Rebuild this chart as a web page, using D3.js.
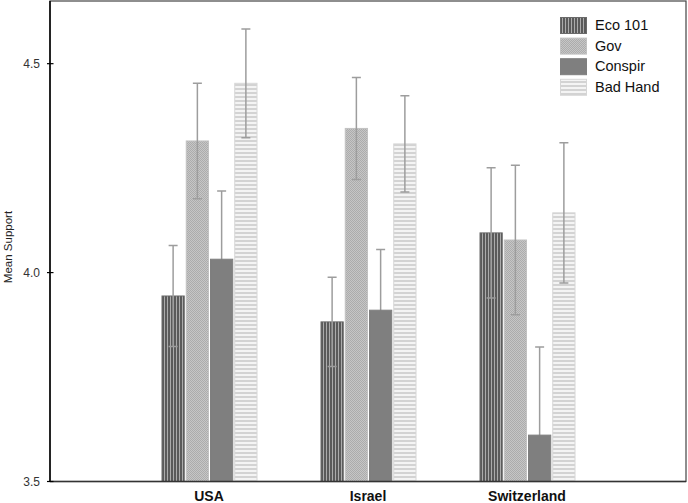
<!DOCTYPE html>
<html>
<head>
<meta charset="utf-8">
<script src="https://cdn.jsdelivr.net/npm/d3@7"></script>
<style>
  html, body { margin: 0; padding: 0; background: #fff; }
  svg { display: block; font-family: Arial, "Liberation Sans", sans-serif; }
</style>
</head>
<body>
<svg id="chart" width="688" height="503"></svg>
<script>
// ---- data ----
const categories = ["USA", "Israel", "Switzerland"];
const seriesNames = ["Eco 101", "Gov", "Conspir", "Bad Hand"];
const ecoValues      = [3.944, 3.882, 4.095];
const govValues      = [4.315, 4.345, 4.078];
const conspirValues  = [4.032, 3.910, 3.611];
const badHandValues  = [4.453, 4.308, 4.143];
const ecoErrors      = [0.121, 0.107, 0.156];
const govErrors      = [0.138, 0.122, 0.179];
const conspirErrors  = [0.163, 0.145, 0.211];
const badHandErrors  = [0.130, 0.115, 0.168];
const yTicks = [3.5, 4.0, 4.5];
const yLabel = "Mean Support";

const values = [ecoValues, govValues, conspirValues, badHandValues];
const errors = [ecoErrors, govErrors, conspirErrors, badHandErrors];

const svg = d3.select("#chart");
const mLeft = 50, mRight = 686, mTop = 1, mBottom = 481.5;

// patterns
const defs = svg.append("defs");
const pEco = defs.append("pattern").attr("id", "p0").attr("patternUnits", "userSpaceOnUse")
  .attr("width", 3).attr("height", 4);
pEco.append("rect").attr("width", 3).attr("height", 4).attr("fill", "#5a5a5a");
pEco.append("rect").attr("x", 2).attr("width", 1).attr("height", 4).attr("fill", "#ababab");

const pGov = defs.append("pattern").attr("id", "p1").attr("patternUnits", "userSpaceOnUse")
  .attr("width", 2).attr("height", 2);
pGov.append("rect").attr("width", 2).attr("height", 2).attr("fill", "#c6c6c6");
pGov.append("rect").attr("width", 1).attr("height", 1).attr("fill", "#acacac");
pGov.append("rect").attr("x", 1).attr("y", 1).attr("width", 1).attr("height", 1).attr("fill", "#acacac");

const pCon = defs.append("pattern").attr("id", "p2").attr("patternUnits", "userSpaceOnUse")
  .attr("width", 4).attr("height", 4);
pCon.append("rect").attr("width", 4).attr("height", 4).attr("fill", "#7f7f7f");

const pBad = defs.append("pattern").attr("id", "p3").attr("patternUnits", "userSpaceOnUse")
  .attr("width", 4).attr("height", 4);
pBad.append("rect").attr("width", 4).attr("height", 4).attr("fill", "#f4f4f4");
pBad.append("rect").attr("y", 0).attr("width", 4).attr("height", 2).attr("fill", "#d3d3d3");

const strokeCols = ["#6a6a6a", "#c2c2c2", "#7f7f7f", "#d6d6d6"];

// scales
const x = d3.scalePoint().domain(categories).range([mLeft, mRight]).padding(1);
const xs = d3.scaleBand().domain(seriesNames).range([-47.5, 48.5]).paddingInner(1 / 24);
const y = d3.scaleLinear().domain([3.5, 4.65]).range([mBottom, mTop]);

// frame
svg.append("rect").attr("x", mLeft).attr("y", mTop).attr("width", mRight - mLeft).attr("height", mBottom - mTop)
  .attr("fill", "none").attr("stroke", "#444").attr("stroke-width", 1.2);

const clip = defs.append("clipPath").attr("id", "plotclip");
clip.append("rect").attr("x", mLeft).attr("y", mTop).attr("width", mRight - mLeft).attr("height", mBottom - mTop);

const plot = svg.append("g").attr("clip-path", "url(#plotclip)");
const behind = plot.append("g");
const barsG = plot.append("g");
const front = plot.append("g");

// bars
seriesNames.forEach((s, si) => {
  categories.forEach((c, ci) => {
    const v = values[si][ci];
    barsG.append("rect")
      .attr("x", x(c) + xs(s) + 0.5)
      .attr("y", y(v))
      .attr("width", xs.bandwidth() - 1)
      .attr("height", y(3.5) - y(v))
      .attr("fill", `url(#p${si})`)
      .attr("stroke", strokeCols[si]).attr("stroke-width", 1);
  });
});
// error bars
seriesNames.forEach((s, si) => {
  categories.forEach((c, ci) => {
    const v = values[si][ci], e = errors[si][ci];
    const cx = x(c) + xs(s) + xs.bandwidth() / 2;
    const layer = si === 2 ? behind : front;
    const g = layer.append("g").attr("stroke", "#9d9d9d").attr("stroke-width", 1.5);
    g.append("line").attr("x1", cx).attr("x2", cx).attr("y1", y(v + e)).attr("y2", y(v - e));
    g.append("line").attr("x1", cx - 4.5).attr("x2", cx + 4.5).attr("y1", y(v + e)).attr("y2", y(v + e));
    g.append("line").attr("x1", cx - 4.5).attr("x2", cx + 4.5).attr("y1", y(v - e)).attr("y2", y(v - e));
  });
});

// axes lines
svg.append("line").attr("x1", mLeft).attr("x2", mLeft).attr("y1", mTop).attr("y2", mBottom)
  .attr("stroke", "#000").attr("stroke-width", 1.5);
svg.append("line").attr("x1", mLeft).attr("x2", mRight).attr("y1", mBottom).attr("y2", mBottom)
  .attr("stroke", "#333").attr("stroke-width", 1.5);

// y ticks
const yt = svg.append("g");
yTicks.forEach(t => {
  yt.append("line").attr("x1", mLeft - 3).attr("x2", mLeft + 3.5).attr("y1", y(t)).attr("y2", y(t))
    .attr("stroke", "#000").attr("stroke-width", 1.2);
  yt.append("text").attr("x", 40).attr("y", y(t)).attr("dy", "0.35em")
    .attr("text-anchor", "end").attr("font-size", 12).attr("fill", "#333")
    .text(d3.format(".1f")(t));
});

// y label
svg.append("text").attr("transform", `translate(12,247) rotate(-90)`)
  .attr("text-anchor", "middle").attr("font-size", 11.5).attr("fill", "#222").text(yLabel);

// x labels
categories.forEach(c => {
  svg.append("text").attr("x", x(c)).attr("y", 500.5)
    .attr("text-anchor", "middle").attr("font-size", 14).attr("font-weight", "bold")
    .attr("fill", "#111").text(c);
});

// legend
const lg = svg.append("g").attr("transform", "translate(560,17)");
seriesNames.forEach((s, i) => {
  const gy = i * 20.6;
  lg.append("rect").attr("x", 0.5).attr("y", gy + 0.5).attr("width", 26).attr("height", 16)
    .attr("fill", `url(#p${i})`).attr("stroke", strokeCols[i]).attr("stroke-width", 1);
  lg.append("text").attr("x", 35).attr("y", gy + 8).attr("dy", "0.35em")
    .attr("font-size", 14.5).attr("fill", "#111").text(s);
});
</script>
</body>
</html>
